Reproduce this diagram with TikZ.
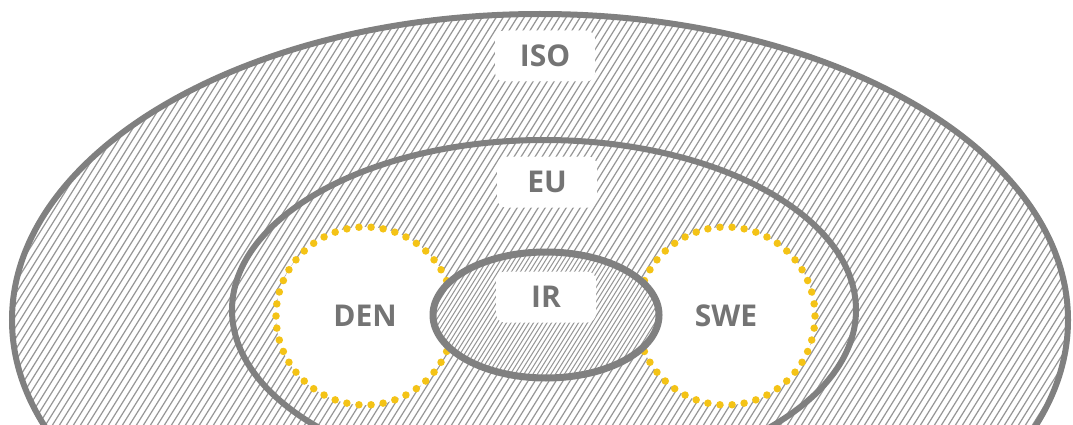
\documentclass[tikz,border=0pt]{standalone}
\usepackage{fontspec}
\newfontfamily\lblfont{Open Sans}
\definecolor{ringgray}{HTML}{808080}
\definecolor{hatchgray}{HTML}{969696}
\definecolor{dotyellow}{HTML}{F4C316}
\definecolor{textgray}{HTML}{747474}

\begin{document}
\begin{tikzpicture}[x=1pt,y=1pt,
  ring/.style={draw=ringgray,line width=6pt},
  hatch/.style={draw=hatchgray,line width=1.2pt},
  dotring/.style={draw=dotyellow,line width=7.5pt,line cap=round,
    dash pattern=on 0pt off 12.157pt},
  tag/.style={fill=white,rounded corners=9pt,minimum width=100pt,
    minimum height=51pt,inner sep=0pt,text=textgray,
    font=\lblfont\bfseries\fontsize{30}{30}\selectfont}]
  \useasboundingbox (0,0) rectangle (1073,424);
  \clip (0,0) rectangle (1073,424);

  % Centres
  \coordinate (c-iso) at (540,104);
  \coordinate (c-eu) at (544,114);
  \coordinate (c-ir) at (546,109);
  \coordinate (c-den) at (365,108);
  \coordinate (c-swe) at (726,108);

  % Outer ellipse with hatching
  \fill[white] (c-iso) ellipse (528 and 306);
  \begin{scope}
    \clip (c-iso) ellipse (528 and 306);
    \foreach \x in {-300,-293,...,1080}
      \draw[hatch] (\x,-5) -- ++(278,445);
  \end{scope}
  \draw[ring] (c-iso) ellipse (528 and 306);

  % EU ring
  \draw[ring] (c-eu) ellipse (312 and 170);

  % Countries
  \fill[white] (c-den) circle (89);
  \fill[white] (c-swe) circle (89);
  \draw[dotring] (c-den) circle (89);
  \draw[dotring] (c-swe) circle (89);

  % Inner ellipse, denser hatching
  \fill[white] (c-ir) ellipse (113 and 63);
  \begin{scope}
    \clip (c-ir) ellipse (113 and 63);
    \foreach \x in {300,304.5,...,700}
      \draw[hatch,line width=1pt] (\x,30) -- ++(100,160);
  \end{scope}
  \draw[ring,line width=7pt] (c-ir) ellipse (113 and 63);

  % Labels
  \node[tag] (iso) at (545,368) {ISO};
  \node[tag] (eu) at (547,242) {EU};
  \node[tag] (ir) at (546,127) {IR};
  \node[text=textgray,font=\lblfont\bfseries\fontsize{30}{30}\selectfont] (den) at (c-den) {DEN};
  \node[text=textgray,font=\lblfont\bfseries\fontsize{30}{30}\selectfont] (swe) at (c-swe) {SWE};
\end{tikzpicture}
\end{document}
